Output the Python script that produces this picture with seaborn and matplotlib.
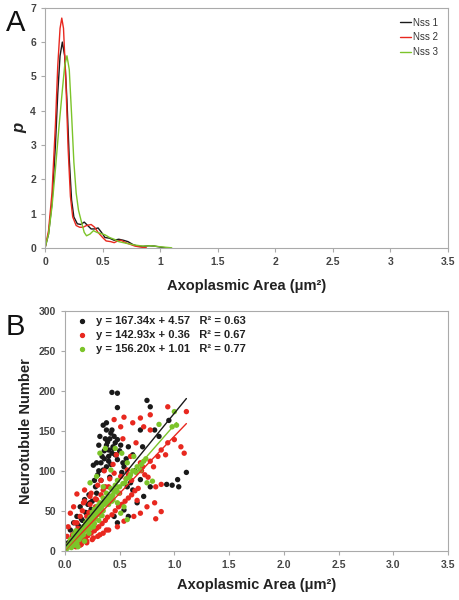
import numpy as np
import pandas as pd
import matplotlib
matplotlib.use('Agg')
import matplotlib.pyplot as plt
import seaborn as sns

# --- Panel A: probability density of axoplasmic area ---
nss1_x = [0, 0.03, 0.06, 0.09, 0.11, 0.13, 0.15, 0.17, 0.19, 0.21, 0.23, 0.25, 0.28, 0.31,
          0.34, 0.37, 0.40, 0.43, 0.46, 0.49, 0.52, 0.56, 0.60, 0.64, 0.68, 0.72, 0.76, 0.80,
          0.85, 0.90, 0.95, 1.00, 1.05]
nss1_p = [0, 0.4, 1.3, 3.0, 4.5, 5.6, 6.0, 5.6, 4.3, 2.6, 1.4, 0.9, 0.7, 0.68,
          0.75, 0.65, 0.55, 0.55, 0.58, 0.45, 0.3, 0.28, 0.22, 0.25, 0.22, 0.18, 0.1, 0.05,
          0.04, 0.06, 0.05, 0.02, 0.0]
nss2_x = [0, 0.03, 0.06, 0.09, 0.11, 0.13, 0.145, 0.16, 0.18, 0.20, 0.22, 0.24, 0.27, 0.30,
          0.33, 0.36, 0.40, 0.43, 0.46, 0.50, 0.53, 0.57, 0.60, 0.63, 0.66, 0.70, 0.74, 0.78,
          0.83, 0.88]
nss2_p = [0, 0.5, 1.6, 3.6, 5.3, 6.4, 6.7, 6.4, 4.9, 2.9, 1.5, 0.9, 0.65, 0.6,
          0.6, 0.65, 0.68, 0.6, 0.45, 0.3, 0.2, 0.18, 0.15, 0.2, 0.22, 0.15, 0.1, 0.05,
          0.02, 0.0]
nss3_x = [0, 0.03, 0.06, 0.09, 0.12, 0.15, 0.17, 0.19, 0.21, 0.23, 0.25, 0.27, 0.29, 0.32,
          0.34, 0.36, 0.39, 0.42, 0.45, 0.48, 0.52, 0.56, 0.60, 0.64, 0.68, 0.72, 0.78, 0.85,
          0.92, 1.00, 1.10]
nss3_p = [0, 0.4, 1.2, 2.3, 3.5, 4.6, 5.3, 5.6, 5.2, 3.9, 2.5, 1.6, 1.1, 0.7,
          0.45, 0.35, 0.4, 0.5, 0.45, 0.42, 0.38, 0.3, 0.25, 0.18, 0.15, 0.12, 0.08, 0.05,
          0.06, 0.03, 0.0]

series_names = ['Nss 1', 'Nss 2', 'Nss 3']
colors = ['#1a1a1a', '#e8281f', '#7cc42a']

# --- Panel B: neurotubule number vs axoplasmic area (estimated points) ---
black_area = [0.43, 0.48, 0.75, 0.78, 0.48, 0.95, 1.11, 1.03, 0.98, 0.93, 1.04,
              0.35, 0.38, 0.38, 0.43, 0.42, 0.45, 0.48, 0.51, 0.32, 0.31, 0.38, 0.40,
              0.43, 0.46, 0.29, 0.26, 0.35, 0.38, 0.48, 0.54, 0.58, 0.69, 0.82, 0.86,
              0.69, 0.78, 0.72, 0.66, 0.62, 0.57, 0.54, 0.58, 0.18, 0.14, 0.23, 0.29,
              0.20, 0.11, 0.08, 0.05, 0.26, 0.35, 0.38, 0.45, 0.48, 0.02, 0.06, 0.11,
              0.14, 0.17, 0.03, 0.34, 0.36, 0.40, 0.44, 0.30, 0.27, 0.22, 0.15, 0.12,
              0.09, 0.41, 0.47, 0.52, 0.56, 0.64, 0.60,
              0.33, 0.37, 0.39, 0.41, 0.44, 0.46, 0.36, 0.40, 0.42, 0.31, 0.28, 0.25,
              0.21, 0.19, 0.16, 0.13, 0.10, 0.07, 0.24, 0.33, 0.50, 0.53, 0.62, 0.71]
black_count = [198, 197, 188, 180, 179, 163, 98, 89, 82, 83, 80,
               157, 160, 151, 151, 147, 143, 139, 132, 143, 132, 132, 126,
               122, 135, 110, 107, 101, 105, 114, 105, 130, 151, 151, 143,
               89, 80, 68, 60, 76, 80, 51, 43, 64, 55, 60, 72,
               47, 43, 35, 26, 51, 60, 64, 43, 35, 5, 14, 18,
               26, 30, 10, 118, 125, 112, 128, 95, 88, 70, 40, 32,
               22, 92, 120, 98, 115, 100, 85,
               110, 140, 136, 140, 130, 120, 115, 118, 108, 100, 80, 62,
               58, 48, 38, 30, 24, 16, 52, 88, 125, 110, 120, 130]
red_area = [0.94, 1.11, 0.78, 0.54, 0.69, 0.45, 0.62, 0.51, 0.72, 0.78,
            1.06, 1.09, 1.00, 0.94, 0.88, 0.85, 0.78, 0.69, 0.60, 0.57, 0.51, 0.45,
            0.88, 0.83, 0.82, 0.88, 0.83, 0.75, 0.69, 0.63, 0.54, 0.48, 0.38, 0.32,
            0.26, 0.20, 0.14, 0.11, 0.18, 0.08, 0.05, 0.23, 0.29, 0.17, 0.35, 0.40,
            0.42, 0.03, 0.02, 0.09, 0.14, 0.20, 0.26, 0.10, 0.15, 0.20, 0.25, 0.30,
            0.35, 0.40, 0.06, 0.12, 0.22, 0.28, 0.33, 0.44, 0.50, 0.56, 0.66, 0.73,
            0.36, 0.47, 0.53, 0.65, 0.71, 0.92,
            0.13, 0.16, 0.19, 0.21, 0.24, 0.27, 0.29, 0.31, 0.34, 0.37, 0.39, 0.43,
            0.46, 0.49, 0.52, 0.55, 0.58, 0.61, 0.64, 0.67, 0.07, 0.11, 0.16, 0.23,
            0.28, 0.33, 0.37, 0.41, 0.18, 0.24, 0.30, 0.58, 0.61, 0.70, 0.76, 0.81]
red_count = [180, 174, 170, 167, 166, 164, 160, 155, 155, 151,
             130, 122, 139, 135, 126, 118, 112, 110, 118, 101, 93, 97,
             83, 80, 60, 49, 40, 55, 47, 43, 37, 30, 26, 20,
             16, 12, 7, 71, 76, 55, 47, 68, 64, 60, 76, 80,
             68, 30, 18, 35, 43, 43, 39, 5, 8, 10, 14, 18,
             22, 26, 12, 28, 48, 55, 88, 108, 72, 90, 63, 95,
             100, 120, 140, 135, 105, 120,
             10, 14, 17, 19, 22, 25, 28, 30, 34, 38, 42, 45,
             50, 55, 58, 62, 66, 70, 75, 78, 20, 35, 50, 58,
             65, 70, 80, 90, 62, 72, 82, 95, 88, 100, 92, 105]
green_area = [0.86, 1.00, 1.02, 0.98, 0.75, 0.80, 0.69, 0.63, 0.57, 0.52, 0.46,
              0.37, 0.32, 0.42, 0.29, 0.23, 0.35, 0.43, 0.51, 0.57, 0.54, 0.48,
              0.03, 0.05, 0.07, 0.08, 0.10, 0.10, 0.12, 0.13, 0.14, 0.15, 0.16, 0.17,
              0.18, 0.19, 0.20, 0.21, 0.22, 0.23, 0.24, 0.25, 0.26, 0.27, 0.28, 0.30,
              0.30, 0.32, 0.33, 0.35, 0.36, 0.38, 0.40, 0.42, 0.44, 0.46, 0.48, 0.50,
              0.02, 0.04, 0.06, 0.09, 0.11, 0.12, 0.05, 0.08, 0.10, 0.15, 0.18, 0.22,
              0.26, 0.31, 0.34, 0.39, 0.45, 0.55, 0.60, 0.66, 0.72,
              0.01, 0.02, 0.03, 0.04, 0.05, 0.06, 0.07, 0.08, 0.09, 0.11, 0.12, 0.13,
              0.14, 0.15, 0.16, 0.17, 0.18, 0.19, 0.20, 0.21, 0.22, 0.24, 0.25, 0.27,
              0.28, 0.29, 0.31, 0.32, 0.34, 0.35, 0.37, 0.38, 0.41, 0.43, 0.45, 0.47,
              0.49, 0.53, 0.56, 0.59, 0.62, 0.65, 0.70, 0.74, 0.08, 0.13, 0.17, 0.23,
              0.27, 0.33, 0.40, 0.44]
green_count = [158, 174, 157, 155, 85, 87, 101, 118, 110, 122, 128,
               128, 122, 101, 93, 85, 80, 68, 47, 39, 55, 60,
               5, 8, 10, 14, 12, 18, 20, 15, 25, 22, 28, 20,
               30, 35, 26, 38, 32, 42, 36, 48, 40, 52, 45, 56,
               48, 60, 52, 66, 58, 72, 65, 78, 70, 82, 88, 80,
               3, 6, 4, 7, 9, 5, 14, 20, 25, 18, 12, 22,
               30, 38, 44, 60, 75, 85, 95, 105, 112,
               2, 4, 7, 9, 11, 12, 13, 16, 18, 16, 22, 24,
               19, 26, 24, 30, 26, 32, 33, 30, 38, 40, 36, 44,
               40, 50, 46, 54, 56, 50, 60, 64, 68, 62, 74, 76,
               72, 84, 90, 92, 100, 98, 108, 115, 10, 14, 24, 28,
               34, 44, 58, 64]

slopes = [167.34, 142.93, 156.20]
intercepts = [4.57, 0.36, 1.01]
r_squared = [0.63, 0.67, 0.77]

sns.set_style('ticks')
plt.rcParams['font.family'] = ['Liberation Sans', 'DejaVu Sans']

fig = plt.figure(figsize=(4.6, 6), dpi=100)
ax_a = fig.add_axes([0.098, 0.587, 0.876, 0.400])
ax_b = fig.add_axes([0.141, 0.082, 0.833, 0.400])

tick_color = '#444444'
spine_color = '#aaaaaa'


def style_axes(ax):
    for side in ['top', 'right', 'bottom', 'left']:
        ax.spines[side].set_visible(True)
        ax.spines[side].set_color(spine_color)
        ax.spines[side].set_linewidth(0.8)
    ax.tick_params(axis='both', colors=spine_color, labelcolor=tick_color,
                   labelsize=7.5, length=3, width=0.8)
    for lbl in ax.get_xticklabels() + ax.get_yticklabels():
        lbl.set_fontweight('bold')


# --- Panel A ---
dens = pd.concat([
    pd.DataFrame({'area': x, 'p': p, 'group': name})
    for x, p, name in zip([nss1_x, nss2_x, nss3_x], [nss1_p, nss2_p, nss3_p], series_names)
])
sns.lineplot(data=dens, x='area', y='p', hue='group', palette=colors, sort=False,
             linewidth=1.0, ax=ax_a)
ax_a.set_xlim(0, 3.5)
ax_a.set_ylim(0, 7)
ax_a.set_xticks(np.arange(0, 3.51, 0.5))
ax_a.set_xticklabels(['0', '0.5', '1', '1.5', '2', '2.5', '3', '3.5'])
ax_a.set_yticks(range(0, 8))
ax_a.set_xlabel('Axoplasmic Area (μm²)', fontsize=10.5, fontweight='bold',
                color='#222222', labelpad=9)
ax_a.set_ylabel('p', fontsize=12, fontweight='bold', style='italic', color='#222222',
                labelpad=2)
style_axes(ax_a)
leg = ax_a.legend(loc='upper right', frameon=False, fontsize=7, handlelength=1.2,
                  handletextpad=0.2, labelspacing=0.5, borderaxespad=0.6)
for t in leg.get_texts():
    t.set_color('#333333')
fig.text(0.012, 0.985, 'A', fontsize=21, va='top', ha='left', color='#111111')

# --- Panel B ---
scat = pd.concat([
    pd.DataFrame({'area': x, 'count': y, 'group': name})
    for x, y, name in zip([black_area, red_area, green_area],
                          [black_count, red_count, green_count], series_names)
])
sns.scatterplot(data=scat, x='area', y='count', hue='group', palette=colors, s=15,
                edgecolor='none', legend=False, ax=ax_b)

handles = []
for k, name in enumerate(series_names):
    xs = scat.loc[scat['group'] == name, 'area']
    xfit = np.array([0, xs.max()])
    ax_b.plot(xfit, slopes[k] * xfit + intercepts[k], color=colors[k], linewidth=1.0)
    h = ax_b.scatter([], [], color=colors[k], s=8,
                     label=f'y = {slopes[k]:.2f}x + {intercepts[k]:.2f}   R² = {r_squared[k]:.2f}')
    handles.append(h)

ax_b.set_xlim(0, 3.5)
ax_b.set_ylim(0, 300)
ax_b.set_xticks(np.arange(0, 3.51, 0.5))
ax_b.set_xticklabels([f'{v:.1f}' for v in np.arange(0, 3.51, 0.5)])
ax_b.set_yticks(range(0, 301, 50))
ax_b.set_xlabel('Axoplasmic Area (μm²)', fontsize=10.5, fontweight='bold',
                color='#222222', labelpad=6)
ax_b.set_ylabel('Neurotubule Number', fontsize=10.5, fontweight='bold', color='#222222')
style_axes(ax_b)
leg_b = ax_b.legend(handles=handles, loc='upper left', frameon=False,
                    prop={'size': 8, 'weight': 'bold'}, handletextpad=0.3,
                    labelspacing=0.35, borderaxespad=0.2, borderpad=0.3)
for t in leg_b.get_texts():
    t.set_color('#222222')
fig.text(0.012, 0.478, 'B', fontsize=21, va='top', ha='left', color='#111111')

fig.savefig('out.png', dpi=100)
